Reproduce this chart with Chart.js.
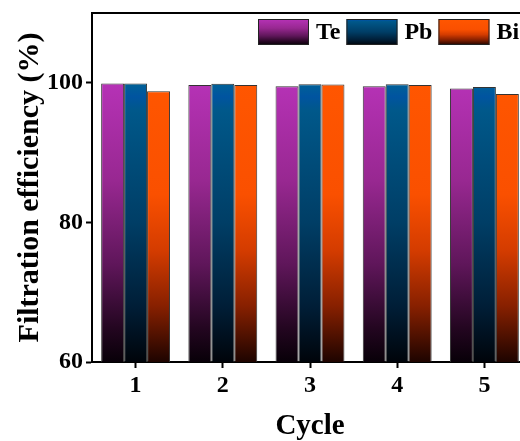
<!DOCTYPE html>
<html>
<head>
<meta charset="utf-8">
<script src="https://cdn.jsdelivr.net/npm/chart.js@4.4.1/dist/chart.umd.min.js"></script>
<style>
  html, body { margin: 0; padding: 0; background: #fff; overflow: hidden; }
  #wrap { width: 528px; height: 441px; position: relative; }
</style>
</head>
<body>
<div id="wrap"><canvas id="chart"></canvas></div>
<script>
// data
const cycles = ['1', '2', '3', '4', '5'];
const teValues = [99.9, 99.7, 99.5, 99.5, 99.2];
const pbValues = [99.9, 99.85, 99.8, 99.8, 99.4];
const biValues = [98.8, 99.7, 99.75, 99.7, 98.4];
const seriesNames = ['Te', 'Pb', 'Bi'];
const yTicks = [60, 80, 100];

const FONT = "'Liberation Serif', 'Times New Roman', serif";

// gradient stops (top -> bottom) for each series
const gradientStops = {
  Te: [[0, 'rgb(182,50,182)'], [0.35, 'rgb(152,40,145)'], [0.65, 'rgb(95,22,90)'], [0.88, 'rgb(35,6,32)'], [1, 'rgb(8,0,8)']],
  Pb: [[0, 'rgb(0,98,150)'], [0.05, 'rgb(0,84,160)'], [0.1, 'rgb(0,88,138)'], [0.5, 'rgb(0,62,102)'], [0.8, 'rgb(0,30,55)'], [1, 'rgb(0,4,10)']],
  Bi: [[0, 'rgb(255,86,0)'], [0.4, 'rgb(250,80,0)'], [0.6, 'rgb(212,60,0)'], [0.8, 'rgb(135,32,0)'], [1, 'rgb(30,4,0)']]
};

function makeGradient(ctx, name, y0, y1) {
  const g = ctx.createLinearGradient(0, y0, 0, y1);
  gradientStops[name].forEach(s => g.addColorStop(s[0], s[1]));
  return g;
}

function barFill(name) {
  return function (context) {
    const chart = context.chart;
    const area = chart.chartArea;
    if (!area) return gradientStops[name][0][1];
    const top = chart.scales.y.getPixelForValue(100);
    return makeGradient(chart.ctx, name, top, area.bottom);
  };
}

// frame line on top + legend drawn inside the plot
const framePlugin = {
  id: 'frame',
  afterDraw(chart) {
    const ctx = chart.ctx;
    const a = chart.chartArea;
    ctx.save();
    ctx.strokeStyle = '#000';
    ctx.lineWidth = 2;
    ctx.beginPath();
    ctx.moveTo(a.left - 1, a.top);
    ctx.lineTo(a.right, a.top);
    ctx.lineTo(a.right, a.bottom);
    ctx.stroke();

    // legend
    ctx.font = 'bold 24px ' + FONT;
    ctx.textBaseline = 'middle';
    let x = 258;
    const y0 = 19, h = 26, w = 51;
    chart.data.datasets.forEach(ds => {
      ctx.fillStyle = makeGradient(ctx, ds.label, y0, y0 + h);
      ctx.fillRect(x, y0, w, h);
      ctx.lineWidth = 1;
      ctx.strokeStyle = '#222';
      ctx.strokeRect(x + 0.5, y0 + 0.5, w - 1, h - 1);
      ctx.fillStyle = '#000';
      ctx.fillText(ds.label, x + w + 7, y0 + h / 2 + 1);
      x += w + 7 + ctx.measureText(ds.label).width + 6;
    });
    ctx.restore();
  }
};

const datasets = [teValues, pbValues, biValues].map((vals, i) => ({
  label: seriesNames[i],
  data: vals,
  backgroundColor: barFill(seriesNames[i]),
  borderColor: '#333',
  borderWidth: 1,
  borderSkipped: 'bottom',
  categoryPercentage: 0.79,
  barPercentage: 1
}));

new Chart(document.getElementById('chart'), {
  type: 'bar',
  data: { labels: cycles, datasets: datasets },
  options: {
    responsive: true,
    maintainAspectRatio: false,
    animation: false,
    layout: { padding: { top: 13, right: 0, left: 0, bottom: 0 } },
    plugins: {
      legend: { display: false },
      tooltip: { enabled: false }
    },
    scales: {
      x: {
        grid: { display: true, offset: false, drawOnChartArea: false, tickLength: 6, tickColor: '#000', tickWidth: 2 },
        border: { display: true, color: '#000', width: 2 },
        ticks: { color: '#000', font: { family: FONT, size: 24, weight: 'bold' }, padding: 3 },
        title: {
          display: true, text: 'Cycle', color: '#000',
          font: { family: FONT, size: 29, weight: 'bold' },
          padding: { top: 0, bottom: -3 }
        },
        afterFit(scale) { scale.height = 79; }
      },
      y: {
        min: 60,
        max: 110,
        afterBuildTicks(scale) { scale.ticks = yTicks.map(v => ({ value: v })); },
        grid: { display: true, drawOnChartArea: false, tickLength: 6, tickColor: '#000', tickWidth: 2 },
        border: { display: true, color: '#000', width: 2 },
        ticks: { color: '#000', font: { family: FONT, size: 24, weight: 'bold' }, padding: 3 },
        title: {
          display: true, text: 'Filtration efficiency (%)', color: '#000',
          font: { family: FONT, size: 30, weight: 'bold' },
          padding: { top: 12, bottom: 0 }
        },
        afterFit(scale) { scale.width = 92; scale.paddingTop = 0; }
      }
    }
  },
  plugins: [framePlugin]
});
</script>
</body>
</html>
